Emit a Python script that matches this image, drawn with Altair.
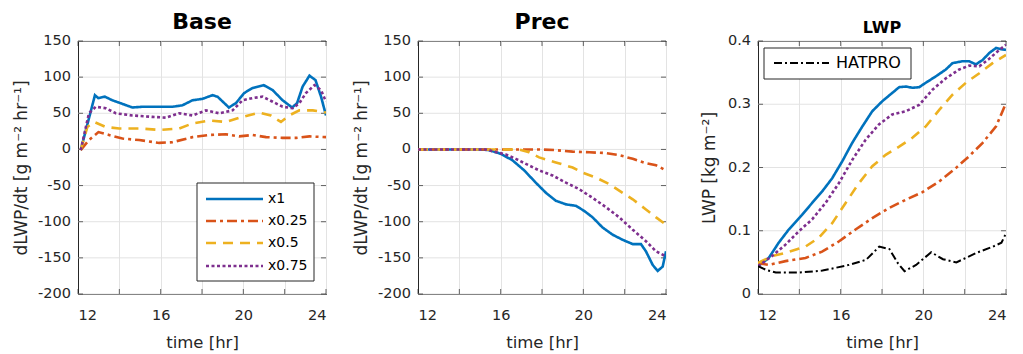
import altair as alt
import pandas as pd

FONT = "DejaVu Sans"
SERIES = ["x1", "x0.25", "x0.5", "x0.75"]
COLORS = ["#0072BD", "#D95319", "#EDB120", "#7E2F8E"]
DASHES = [[1, 0], [10, 4, 3, 4], [10, 7], [3, 2.5]]

# tick values and tick labels
X_TICKS = [12, 14, 16, 18, 20, 22, 24]
D_TICKS = [-200, -150, -100, -50, 0, 50, 100, 150]
D_LABELS = ["-200", "-150", "-100", "-50", "0", "50", "100", "150"]
L_TICKS = [0, 0.1, 0.2, 0.3, 0.4]
L_LABELS = ["0", "0.1", "0.2", "0.3", "0.4"]

# ---------------- Base panel: dLWP/dt ----------------
base_t = {
    "x1": [12.13, 12.82, 12.98, 13.3, 13.66, 14.15, 14.63, 15.1, 15.9, 16.57, 17.05, 17.54, 18.03, 18.5, 18.75,
           19.3, 19.64, 20.04, 20.45, 20.98, 21.42, 21.9, 22.36, 22.6, 22.87, 23.2, 23.49, 23.76, 24.0],
    "x0.25": [12.13, 12.53, 12.99, 13.5, 14.15, 14.96, 15.93, 16.57, 17.54, 18.35, 19.15, 19.8, 20.45, 21.1,
              21.9, 22.55, 23.2, 24.0],
    "x0.5": [12.13, 12.45, 12.78, 13.34, 13.99, 14.96, 15.93, 16.9, 17.54, 18.35, 19.15, 19.96, 20.77, 21.33,
             21.82, 22.22, 22.71, 23.36, 24.0],
    "x0.75": [12.13, 12.53, 12.86, 13.34, 13.83, 14.63, 15.6, 16.25, 16.9, 17.54, 18.19, 18.83, 19.48, 19.96,
              20.45, 20.93, 21.42, 21.9, 22.39, 22.71, 23.03, 23.44, 23.76, 24.0],
}
base_v = {
    "x1": [-1, 75, 71, 73, 68, 63, 58, 59, 59, 59, 61, 68, 70, 75, 73,
           58, 64, 78, 85, 89, 82, 68, 58, 64, 87, 102, 96, 73, 47],
    "x0.25": [-1, 13, 24, 20, 15, 13, 9, 10, 17, 20, 21, 18, 20, 17, 16, 16, 18, 17],
    "x0.5": [-1, 31, 38, 31, 29, 29, 27, 29, 36, 40, 38, 45, 51, 47, 38, 47, 54, 54, 51],
    "x0.75": [-1, 50, 59, 57, 50, 47, 45, 44, 50, 47, 54, 50, 54, 68, 71, 73, 66, 59, 57, 64, 78, 89, 82, 66],
}

# ---------------- Prec panel: dLWP/dt ----------------
prec_t = {
    "x1": [12.0, 13.0, 14.0, 15.0, 15.44, 16.0, 16.57, 17.14, 17.7, 18.19, 18.67, 19.16, 19.64, 20.04, 20.45,
           20.93, 21.42, 21.9, 22.39, 22.79, 23.03, 23.36, 23.6, 23.84, 24.0],
    "x0.25": [12.0, 14.0, 16.0, 17.86, 18.67, 19.48, 20.29, 21.1, 21.74, 22.39, 23.03, 23.52, 24.0],
    "x0.5": [12.0, 14.0, 16.0, 16.9, 17.38, 17.86, 18.67, 19.48, 19.96, 20.61, 21.26, 21.9, 22.39, 23.03,
             23.52, 24.0],
    "x0.75": [12.0, 13.5, 15.3, 15.8, 16.25, 16.73, 17.22, 17.86, 18.51, 19.16, 19.8, 20.45, 21.1, 21.74,
              22.39, 23.03, 23.52, 24.0],
}
prec_v = {
    "x1": [0, 0, 0, 0, -1, -6, -15, -29, -46, -60, -71, -76, -78, -85, -94,
           -108, -118, -125, -131, -131, -141, -160, -168, -162, -141],
    "x0.25": [0, 0, 0, 0, -1, -3, -4, -5, -8, -13, -19, -22, -29],
    "x0.5": [0, 0, 0, 0, -4, -11, -18, -25, -32, -39, -48, -60, -69, -83, -94, -104],
    "x0.75": [0, 0, 0, -4, -7, -13, -20, -29, -36, -46, -55, -67, -80, -94, -111, -127, -141, -148],
}

# ---------------- LWP panel ----------------
lwp_t = {
    "x1": [12.0, 12.52, 13.0, 13.49, 14.13, 14.62, 15.1, 15.59, 16.08, 16.56, 17.05, 17.53, 18.02, 18.5, 18.83,
           19.15, 19.47, 19.8, 20.12, 20.6, 21.09, 21.41, 21.9, 22.22, 22.54, 22.87, 23.19, 23.52, 23.76, 24.0],
    "x0.25": [12.0, 12.52, 13.33, 14.3, 15.1, 15.91, 16.72, 17.53, 18.34, 19.15, 19.96, 20.77, 21.57, 22.22,
              22.87, 23.52, 24.0],
    "x0.5": [12.0, 12.68, 13.33, 14.3, 14.94, 15.59, 16.24, 16.88, 17.53, 18.18, 18.83, 19.47, 20.12, 20.77,
             21.41, 22.06, 22.71, 23.35, 24.0],
    "x0.75": [12.0, 12.68, 13.33, 13.97, 14.62, 15.27, 15.91, 16.56, 17.21, 17.85, 18.5, 19.15, 19.8, 20.44,
              21.09, 21.74, 22.22, 22.71, 23.19, 23.68, 24.0],
}
lwp_v = {
    "x1": [0.044, 0.057, 0.081, 0.102, 0.125, 0.144, 0.162, 0.183, 0.21, 0.239, 0.265, 0.289, 0.305, 0.318,
           0.327, 0.328, 0.326, 0.327, 0.334, 0.344, 0.355, 0.365, 0.368, 0.368, 0.363, 0.37, 0.381, 0.389,
           0.387, 0.386],
    "x0.25": [0.049, 0.046, 0.052, 0.057, 0.067, 0.083, 0.102, 0.12, 0.136, 0.149, 0.161, 0.178, 0.199, 0.218,
              0.239, 0.265, 0.302],
    "x0.5": [0.049, 0.06, 0.065, 0.075, 0.089, 0.112, 0.144, 0.175, 0.202, 0.22, 0.233, 0.247, 0.265, 0.291,
             0.315, 0.334, 0.349, 0.365, 0.378],
    "x0.75": [0.044, 0.06, 0.078, 0.099, 0.118, 0.144, 0.175, 0.212, 0.244, 0.268, 0.284, 0.289, 0.299, 0.323,
              0.341, 0.355, 0.361, 0.36, 0.372, 0.386, 0.394],
}
hatpro_t = [12.0, 12.4, 12.86, 13.99, 15.12, 16.41, 17.23, 17.87, 18.36, 18.76, 19.09, 19.65, 20.38, 20.95,
            21.6, 22.57, 23.37, 23.78, 24.0]
hatpro_v = [0.044, 0.038, 0.034, 0.034, 0.037, 0.046, 0.054, 0.075, 0.071, 0.049, 0.036, 0.046, 0.066, 0.055,
            0.05, 0.065, 0.075, 0.081, 0.096]

W, H = 248, 253
AX_COLOR = "#262626"
GRID = "#e3e3e3"


def make_enc(ytitle, domain, ytpad):
    x = alt.X(
        "t:Q",
        scale=alt.Scale(domain=[12, 24], nice=False, zero=False),
        axis=alt.Axis(values=X_TICKS,
                      labelExpr="datum.value % 4 == 0 ? datum.label : ''",
                      labelOverlap=False, title="time [hr]"),
    )
    y = alt.Y(
        "v:Q",
        scale=alt.Scale(domain=domain, nice=False, zero=False),
        axis=alt.Axis(labels=False, grid=False, ticks=False, title=ytitle, titlePadding=ytpad),
    )
    return x, y


def line(t, v, color, dash, enc, width=2.6):
    df = pd.DataFrame({"t": t, "v": v})
    return alt.Chart(df).mark_line(color=color, strokeDash=dash, strokeWidth=width,
                                   strokeCap="butt", clip=True).encode(x=enc[0], y=enc[1])


def ygrid_layers(yvals, ylabels, enc):
    yt = pd.DataFrame({"v": yvals, "lab": ylabels})
    grid = alt.Chart(yt).mark_rule(color=GRID, strokeWidth=1).encode(
        y=enc[1], x=alt.value(0), x2=alt.value(W))
    labels = alt.Chart(yt).mark_text(align="right", baseline="middle", font=FONT, fontSize=14.5,
                                     color=AX_COLOR).encode(
        y=enc[1], x=alt.value(-7), text="lab:N")
    return [grid, labels]


def tick_layers(yvals, enc):
    xt = pd.DataFrame({"t": X_TICKS})
    yt = pd.DataFrame({"v": yvals})
    out = []
    for yy in [H - 2.5, 2.5]:
        out.append(alt.Chart(xt).mark_tick(color=AX_COLOR, size=5, thickness=1, orient="vertical").encode(
            x=enc[0], y=alt.value(yy)))
    for xx in [2.5, W - 2.5]:
        out.append(alt.Chart(yt).mark_tick(color=AX_COLOR, size=5, thickness=1, orient="horizontal").encode(
            y=enc[1], x=alt.value(xx)))
    return out


def legend_layers(box, x0, x1, xl, ys, labels, colors, dashes, widths, fsize):
    layers = [
        alt.Chart(pd.DataFrame({"a": [0]})).mark_rect(fill="white", stroke=AX_COLOR, strokeWidth=1).encode(
            x=alt.value(box[0]), x2=alt.value(box[1]), y=alt.value(box[2]), y2=alt.value(box[3]))
    ]
    for lab, col, dsh, wd, yy in zip(labels, colors, dashes, widths, ys):
        d = pd.DataFrame({"label": [lab]})
        layers.append(alt.Chart(d).mark_rule(color=col, strokeDash=dsh, strokeWidth=wd, strokeCap="butt").encode(
            x=alt.value(x0), x2=alt.value(x1), y=alt.value(yy)))
        layers.append(alt.Chart(d).mark_text(align="left", baseline="middle", font=FONT, fontSize=fsize,
                                             color="black").encode(
            x=alt.value(xl), y=alt.value(yy), text="label:N"))
    return layers


def title_layer(text, size, dy):
    d = pd.DataFrame({"title": [text]})
    return alt.Chart(d).mark_text(font=FONT, fontSize=size, fontWeight="bold", color="black",
                                  align="center", baseline="alphabetic").encode(
        x=alt.value(W / 2), y=alt.value(dy), text="title:N")


def panel(title, tsize, tdy, ytitle, domain, yvals, ylabels, ytpad, tdict, vdict, extra=None, legend=None):
    enc = make_enc(ytitle, domain, ytpad)
    layers = ygrid_layers(yvals, ylabels, enc)
    layers += tick_layers(yvals, enc)
    for i, s in enumerate(SERIES):
        layers.append(line(tdict[s], vdict[s], COLORS[i], DASHES[i], enc))
    if extra is not None:
        layers.append(extra(enc))
    if legend is not None:
        layers.extend(legend)
    layers.append(title_layer(title, tsize, tdy))
    return alt.layer(*layers).properties(width=W, height=H)


ytitle_d = "dLWP/dt [g m\u207b\u00b2 hr\u207b\u00b9]"

leg1 = legend_layers((119, 236, 142, 240), 128, 185, 190, [158, 180, 202, 225],
                     SERIES, COLORS, DASHES, [2.6] * 4, 14)
p1 = panel("Base", 22, -11.7, ytitle_d, [-200, 150], D_TICKS, D_LABELS, 48, base_t, base_v, legend=leg1)
p2 = panel("Prec", 22, -12, ytitle_d, [-200, 150], D_TICKS, D_LABELS, 48, prec_t, prec_v)

leg3 = legend_layers((6, 153, 7, 38), 16, 71, 78, [22], ["HATPRO"], ["black"], [[8, 3, 2, 3]], [2.2], 16)
p3 = panel("LWP", 16, -8.3, "LWP [kg m\u207b\u00b2]", [0, 0.4], L_TICKS, L_LABELS, 39.5,
           lwp_t, lwp_v,
           extra=lambda enc: line(hatpro_t, hatpro_v, "black", [8, 3, 2, 3], enc, width=2),
           legend=leg3)

chart = alt.hconcat(p1, p2, p3, spacing=92, bounds="flush").properties(
    padding={"left": 11, "top": 10, "right": 16, "bottom": 2},
    background="white",
).configure_axis(
    labelFont=FONT, labelFontSize=14.5, labelColor=AX_COLOR,
    titleFont=FONT, titleFontSize=17, titleFontWeight="normal", titleColor=AX_COLOR,
    gridColor=GRID, gridWidth=1, domainColor=AX_COLOR, ticks=False,
).configure_axisX(
    labelPadding=14, titlePadding=13, titleFontSize=16.5,
).configure_view(
    stroke=AX_COLOR, strokeWidth=1,
)

chart.save("out.html", embed_options={"renderer": "svg", "actions": False})
